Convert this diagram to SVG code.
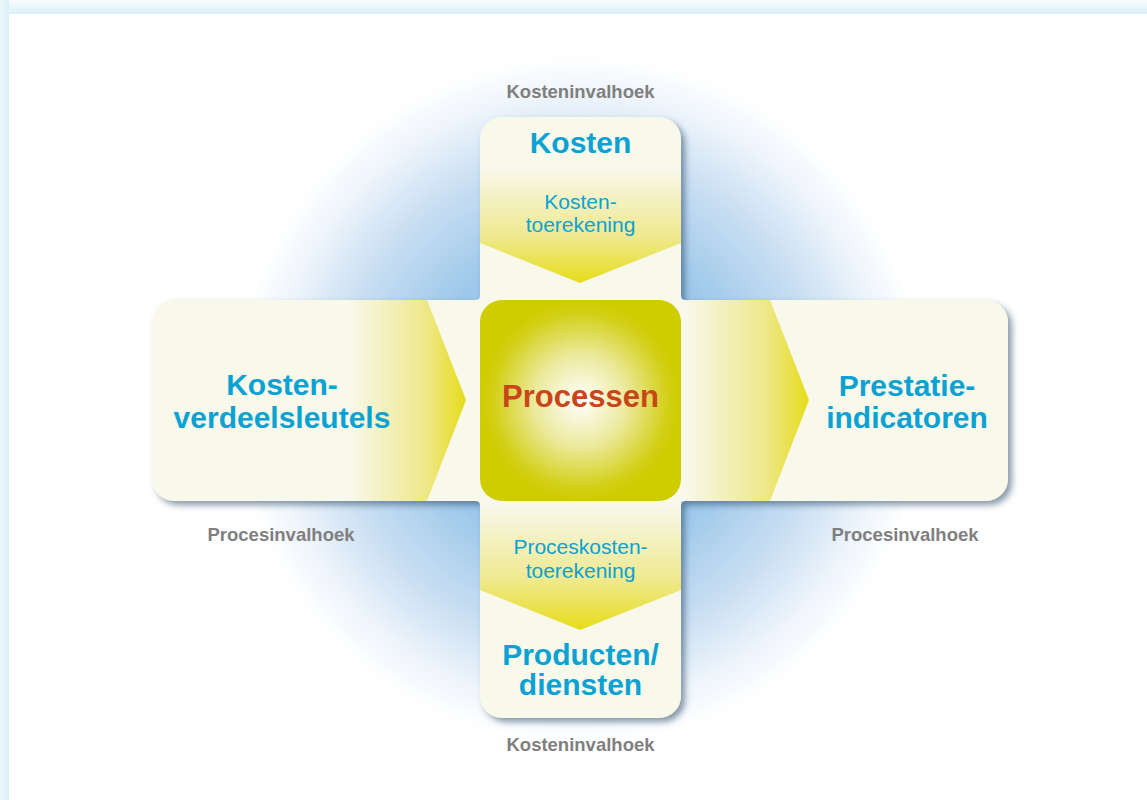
<svg xmlns="http://www.w3.org/2000/svg" width="1147" height="800" viewBox="0 0 1147 800">
  <defs>
    <linearGradient id="frameTop" x1="0" y1="0" x2="0" y2="1">
      <stop offset="0" stop-color="#f7fcfe"/>
      <stop offset="1" stop-color="#dbeff8"/>
    </linearGradient>
    <linearGradient id="frameLeft" x1="0" y1="0" x2="1" y2="0">
      <stop offset="0" stop-color="#ecf7fb"/>
      <stop offset="1" stop-color="#dbeff8"/>
    </linearGradient>
    <radialGradient id="glow" gradientUnits="userSpaceOnUse" cx="580" cy="400" r="345">
      <stop offset="0" stop-color="#93c0e6"/>
      <stop offset="0.45" stop-color="#9dc8ea"/>
      <stop offset="0.7" stop-color="#c8def2"/>
      <stop offset="0.88" stop-color="#edf4fb"/>
      <stop offset="1" stop-color="#ffffff"/>
    </radialGradient>
    <radialGradient id="core" cx="0.5" cy="0.5" r="0.5">
      <stop offset="0" stop-color="#ffffff"/>
      <stop offset="0.45" stop-color="#ecea9e"/>
      <stop offset="0.88" stop-color="#d2cf14"/>
      <stop offset="1" stop-color="#cfcc00"/>
    </radialGradient>
    <linearGradient id="bandDown" x1="0" y1="0" x2="0" y2="1">
      <stop offset="0" stop-color="#f8f8eb"/>
      <stop offset="0.6" stop-color="#efe98e"/>
      <stop offset="1" stop-color="#e6dc1a"/>
    </linearGradient>
    <linearGradient id="bandRight" x1="0" y1="0" x2="1" y2="0">
      <stop offset="0" stop-color="#f8f8eb"/>
      <stop offset="0.65" stop-color="#eee88a"/>
      <stop offset="1" stop-color="#e6dc1a"/>
    </linearGradient>
    <filter id="shadow" x="-10%" y="-10%" width="120%" height="120%">
      <feDropShadow dx="4" dy="4" stdDeviation="3" flood-color="#2c4a68" flood-opacity="0.55"/>
    </filter>
    <style>
      .title { font-family: "Liberation Sans", Arial, sans-serif; font-weight: bold; font-size: 30px; fill: #0aa2d3; text-anchor: middle; }
      .sub { font-family: "Liberation Sans", Arial, sans-serif; font-size: 21px; fill: #0aa2d3; text-anchor: middle; }
      .angle { font-family: "Liberation Sans", Arial, sans-serif; font-weight: bold; font-size: 18.5px; fill: #7f7f7f; text-anchor: middle; }
      .core { font-family: "Liberation Sans", Arial, sans-serif; font-weight: bold; font-size: 31px; fill: #c8461a; text-anchor: middle; }
    </style>
  </defs>

  <!-- page frame -->
  <rect x="0" y="0" width="1147" height="800" fill="#ffffff"/>
  <rect x="0" y="0" width="1147" height="14" fill="url(#frameTop)"/>
  <rect x="0" y="0" width="9" height="800" fill="url(#frameLeft)"/>

  <!-- blue halo behind the cross -->
  <circle cx="580" cy="400" r="345" fill="url(#glow)"/>

  <!-- cross body -->
  <path id="cross" filter="url(#shadow)" fill="#f8f8eb"
        d="M502,117 H659 A22,22 0 0 1 681,139 V296 A4,4 0 0 0 685,300 H986 A22,22 0 0 1 1008,322 V479 A22,22 0 0 1 986,501 H685 A4,4 0 0 0 681,505 V696 A22,22 0 0 1 659,718 H502 A22,22 0 0 1 480,696 V505 A4,4 0 0 0 476,501 H174 A22,22 0 0 1 152,479 V322 A22,22 0 0 1 174,300 H476 A4,4 0 0 0 480,296 V139 A22,22 0 0 1 502,117 Z"/>

  <!-- top arm: Kosten -->
  <g id="node-kosten">
    <polygon points="480,168 681,168 681,243 580,283 480,243" fill="url(#bandDown)"/>
    <text class="title" x="580.5" y="153">Kosten</text>
  </g>

  <!-- connector labels on the chevrons -->
  <g id="connectors">
    <g id="edge-kostentoerekening">
      <text class="sub" x="580.5" y="209">Kosten-</text>
      <text class="sub" x="580.5" y="232">toerekening</text>
    </g>
    <g id="edge-proceskostentoerekening">
      <polygon points="480,505 681,505 681,590 580,630 480,590" fill="url(#bandDown)"/>
      <text class="sub" x="580.5" y="554">Proceskosten-</text>
      <text class="sub" x="580.5" y="578">toerekening</text>
    </g>
    <g id="edge-left">
      <polygon points="350,300 427,300 466,400 427,501 350,501" fill="url(#bandRight)"/>
    </g>
    <g id="edge-right">
      <polygon points="685,300 770,300 809,400 770,501 685,501" fill="url(#bandRight)"/>
    </g>
  </g>

  <!-- left arm -->
  <g id="node-verdeelsleutels">
    <text class="title" x="282" y="395">Kosten-</text>
    <text class="title" x="282" y="428">verdeelsleutels</text>
  </g>

  <!-- right arm -->
  <g id="node-prestatie">
    <text class="title" x="907" y="396">Prestatie-</text>
    <text class="title" x="907" y="428">indicatoren</text>
  </g>

  <!-- bottom arm -->
  <g id="node-producten">
    <text class="title" x="580.5" y="665">Producten/</text>
    <text class="title" x="580.5" y="695">diensten</text>
  </g>

  <!-- centre -->
  <g id="node-processen">
    <rect x="480" y="300" width="201" height="201" rx="22" ry="22" fill="url(#core)"/>
    <text class="core" x="580.5" y="407">Processen</text>
  </g>

  <!-- viewpoint labels -->
  <g id="labels">
    <text class="angle" x="580.5" y="98">Kosteninvalhoek</text>
    <text class="angle" x="580.5" y="751">Kosteninvalhoek</text>
    <text class="angle" x="281" y="541">Procesinvalhoek</text>
    <text class="angle" x="905" y="541">Procesinvalhoek</text>
  </g>
</svg>
